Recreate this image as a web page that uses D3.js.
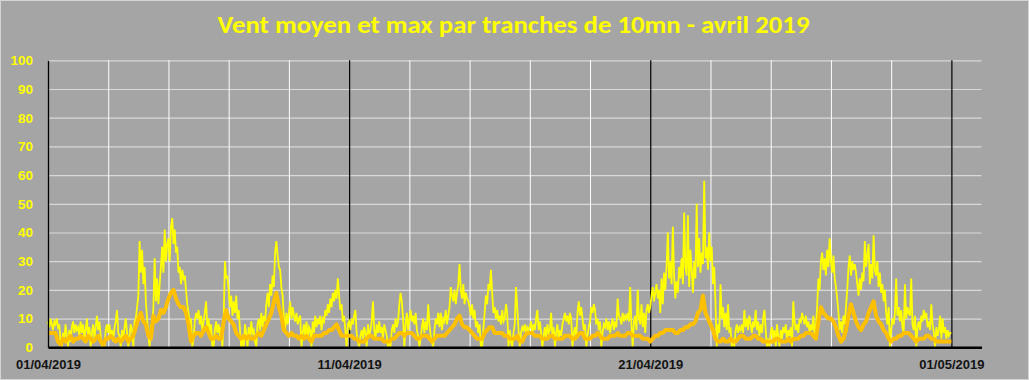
<!DOCTYPE html>
<html><head><meta charset="utf-8">
<script src="https://cdn.jsdelivr.net/npm/d3@7"></script>
<style>
html,body{margin:0;padding:0;background:#a5a5a5;}
svg{display:block;}
</style></head>
<body>
<svg id="chart" width="1029" height="380"></svg>
<script>
const chartTitle = "Vent moyen et max par tranches de 10mn - avril 2019";
// wind max (km/h), one value per hour from 01/04/2019 00:00
const maxValues = [
 9,7,10,8,6,9,8,10,7,8,2,0, 5,3,8,4,0,6,2,7,9,5,8,6,
 7,4,9,5,8,3,6,10,4,7,0,5, 8,3,7,11,6,9,4,0,2,0,6,8,
 5,8,3,6,2,7,9,13,5,4,0,6, 3,7,10,5,0,4,8,6,0,9,10,14,
 18,37,26,34,22,28,16,10,4,0,8,5, 14,31,16,24,15,22,28,35,26,41,30,36,
 38,30,42,45,36,41,33,35,26,28,22,27, 24,25,20,15,12,8,10,0,3,9,12,10,
 13,8,11,6,9,12,16,7,10,5,8,0, 0,6,9,5,8,4,7,0,10,30,24,25,
 20,14,18,11,16,12,18,10,13,6,0,4, 0,8,5,0,7,3,9,5,6,2,0,8,
 10,6,12,7,11,9,15,19,14,22,18,25, 21,33,37,32,28,27,21,18,10,6,12,8,
 12,16,10,14,11,9,12,8,10,11,0,5, 8,4,9,3,7,6,0,9,5,11,7,10,
 8,11,6,10,9,13,11,15,12,17,14,19, 16,20,17,24,18,13,15,9,11,6,0,8,
 9,6,10,8,11,13,5,2,0,4,6,3, 7,5,0,8,4,6,9,16,6,3,8,5,
 9,5,7,3,8,6,4,0,2,0,6,8, 5,10,7,9,15,19,16,10,0,8,12,6,
 10,13,9,11,8,12,6,4,0,3,7,10, 5,9,6,15,8,4,2,0,6,10,8,12,
 7,12,6,10,9,13,8,11,14,21,18,16, 20,15,19,22,29,20,17,22,15,19,17,16,
 14,11,15,10,13,7,9,5,8,0,0,6, 12,18,15,22,20,27,19,12,14,10,13,9,
 11,8,13,9,10,15,12,0,6,2,0,5, 8,21,14,6,0,5,7,6,8,5,7,6,
 7,9,5,8,6,10,13,6,9,5,0,4, 7,3,8,5,6,12,4,7,0,5,8,3,
 6,4,8,10,12,9,11,8,12,10,0,5, 7,3,12,16,11,14,10,6,8,0,4,7,
 9,14,12,15,13,8,10,6,9,0,5,8, 7,10,6,9,5,8,10,6,9,7,17,11,
 10,8,12,9,11,10,12,9,21,8,0,9, 11,6,20,10,8,15,7,12,5,13,15,12,
 14,18,21,16,19,22,17,20,12,24,15,26, 20,28,40,24,30,22,42,25,17,23,19,28,
 24,31,22,47,28,25,46,21,34,27,19,30, 24,50,28,38,26,33,29,58,31,35,27,40,
 30,35,22,28,15,0,8,5,22,10,14,7, 12,6,15,5,7,0,3,0,6,8,5,7,
 6,8,5,13,7,10,6,11,8,5,9,7, 13,6,9,4,8,5,10,13,6,0,3,0,
 5,7,3,6,0,8,4,0,6,3,7,5, 8,2,6,4,7,0,16,9,6,8,5,10,
 9,12,10,8,11,7,9,5,8,6,11,4, 7,14,24,20,30,33,27,31,25,34,28,38,
 30,26,32,24,21,17,12,6,9,5,11,8, 14,20,28,32,25,30,27,29,26,22,18,24,
 20,26,23,37,28,32,36,22,29,24,39,27, 25,30,21,26,19,22,16,20,12,8,14,0,
 6,10,8,12,24,11,14,9,13,7,5,22, 10,14,12,11,24,8,6,11,0,7,9,6,
 11,9,13,10,12,7,9,6,15,8,5,0, 7,4,6,11,3,10,5,7,3,6,4,5,
 5
];
// wind mean (km/h), one value per 2 hours from 01/04/2019 00:00
const meanValues = [
 5,5,5,5,2,1, 3,2,3,4,2,3,
 3,4,3,2,4,3, 2,3,4,2,1,3,
 3,4,3,2,3,2, 3,4,2,3,4,7,
 10,12,9,8,4,3, 11,9,10,13,12,14,
 17,19,20,17,15,14, 14,12,8,2,4,5,
 5,4,6,7,5,3, 3,4,3,3,9,13,
 10,9,8,5,4,3, 4,3,4,3,3,4,
 5,4,6,8,10,12, 16,19,14,11,6,5,
 4,5,4,4,3,4, 3,4,3,2,4,4,
 4,4,5,5,6,6, 7,8,6,4,4,4,
 4,4,3,3,2,2, 2,3,4,4,3,3,
 3,3,2,2,2,3, 3,4,5,5,4,5,
 5,5,4,3,3,4, 4,4,3,2,3,4,
 4,4,4,5,6,7, 8,10,11,8,7,7,
 6,5,4,3,3,3, 5,6,7,7,5,5,
 5,5,4,4,3,3, 3,4,2,2,4,5,
 5,5,4,4,4,3, 3,3,4,4,3,3,
 3,3,4,4,4,3, 3,4,5,5,3,3,
 3,4,4,5,4,3, 3,3,4,4,4,5,
 4,4,4,5,5,4, 4,4,4,3,3,3,
 2,3,4,4,5,5, 6,6,6,6,5,5,
 6,6,7,7,8,8, 9,12,13,18,12,10,
 8,6,3,2,2,3, 2,2,3,2,2,3,
 4,4,3,3,3,4, 4,3,3,2,2,2,
 2,2,3,3,2,2, 2,3,2,3,3,3,
 4,4,5,5,5,4, 3,9,14,12,11,10,
 10,9,7,4,2,3, 6,11,15,12,9,7,
 6,8,9,12,14,16, 11,9,8,6,5,3,
 2,3,3,4,4,5, 5,5,4,3,2,3,
 3,3,4,4,3,3, 2,2,2,2,2,2,
 2
];
const yTicks = [0,10,20,30,40,50,60,70,80,90,100];
const xLabelDates = ["2019-04-01","2019-04-11","2019-04-21","2019-05-01"];
const minorGridDates = ["2019-04-03","2019-04-05","2019-04-07","2019-04-09",
  "2019-04-13","2019-04-15","2019-04-17","2019-04-19",
  "2019-04-23","2019-04-25","2019-04-27","2019-04-29"];
const majorGridDates = ["2019-04-11","2019-04-21","2019-05-01"];

(function draw(){
const parse = d3.timeParse("%Y-%m-%d");
const start = parse("2019-04-01");
const svg = d3.select("#chart");
const W = 1029, H = 380;
const pL = 48, pR = 981.5, pT = 60.3, pB = 347.3;

svg.append("rect").attr("x",0.5).attr("y",0.5).attr("width",W-1).attr("height",H-1)
  .attr("fill","#a5a5a5").attr("stroke","#d4d4d4").attr("stroke-width",1);

const x = d3.scaleTime().domain([start, parse("2019-05-02")]).range([pL, pR]);
const y = d3.scaleLinear().domain([0,100]).range([pB, pT]);

svg.append("text").attr("x", 513.5).attr("y", 33.3).attr("text-anchor","middle")
  .attr("font-family","Carlito, Lato, 'Open Sans', sans-serif")
  .attr("font-weight","bold").attr("font-size",24).attr("fill","#ffff00")
  .attr("textLength",592).attr("lengthAdjust","spacingAndGlyphs")
  .text(chartTitle);

const gy = svg.append("g").attr("transform",`translate(${pL},0)`)
  .call(d3.axisLeft(y).tickValues(yTicks.filter(v=>v>0)).tickSize(-(pR-pL)).tickFormat(""));
gy.select(".domain").remove();
gy.selectAll("line").attr("stroke","#d9d9d9").attr("stroke-width",1.2);

const gmin = svg.append("g").attr("transform",`translate(0,${pB})`)
  .call(d3.axisBottom(x).tickValues(minorGridDates.map(parse)).tickSize(-(pB-pT)).tickFormat(""));
gmin.select(".domain").remove();
gmin.selectAll("line").attr("stroke","#ffffff").attr("stroke-width",1);

const gmaj = svg.append("g").attr("transform",`translate(0,${pB})`)
  .call(d3.axisBottom(x).tickValues(majorGridDates.map(parse)).tickSize(-(pB-pT)).tickFormat(""));
gmaj.select(".domain").remove();
gmaj.selectAll("line").attr("stroke","#000000").attr("stroke-width",1.2);

const maxData = maxValues.map((v,i)=>({t:d3.timeHour.offset(start,i), v}));
const meanData = meanValues.map((v,i)=>({t:d3.timeHour.offset(start,2*i), v}));
const line = d3.line().x(d=>x(d.t)).y(d=>y(d.v));

svg.append("path").datum(maxData).attr("d",line).attr("fill","none")
  .attr("stroke","#ffff00").attr("stroke-width",1.8).attr("stroke-linejoin","miter");
svg.append("path").datum(meanData).attr("d",line).attr("fill","none")
  .attr("stroke","#ffc000").attr("stroke-width",4).attr("stroke-linejoin","round");

const ya = svg.append("g").attr("transform",`translate(${pL},0)`)
  .call(d3.axisLeft(y).tickValues(yTicks).tickSize(0).tickPadding(15));
ya.select(".domain").attr("stroke","#000").attr("stroke-width",1.3);
ya.selectAll("text").attr("fill","#ffff00").attr("font-family","'Liberation Sans', Arial, sans-serif")
  .attr("font-weight","bold").attr("font-size",13.5);

const xa = svg.append("g").attr("transform",`translate(0,${pB})`)
  .call(d3.axisBottom(x).tickValues(xLabelDates.map(parse)).tickSize(0).tickPadding(12)
    .tickFormat(d3.timeFormat("%d/%m/%Y")));
xa.select(".domain").attr("stroke","#000").attr("stroke-width",2.4);
xa.selectAll("text").attr("fill","#141414").attr("font-family","'Liberation Sans', Arial, sans-serif")
  .attr("font-weight","bold").attr("font-size",13);
})();
</script>
</body></html>
